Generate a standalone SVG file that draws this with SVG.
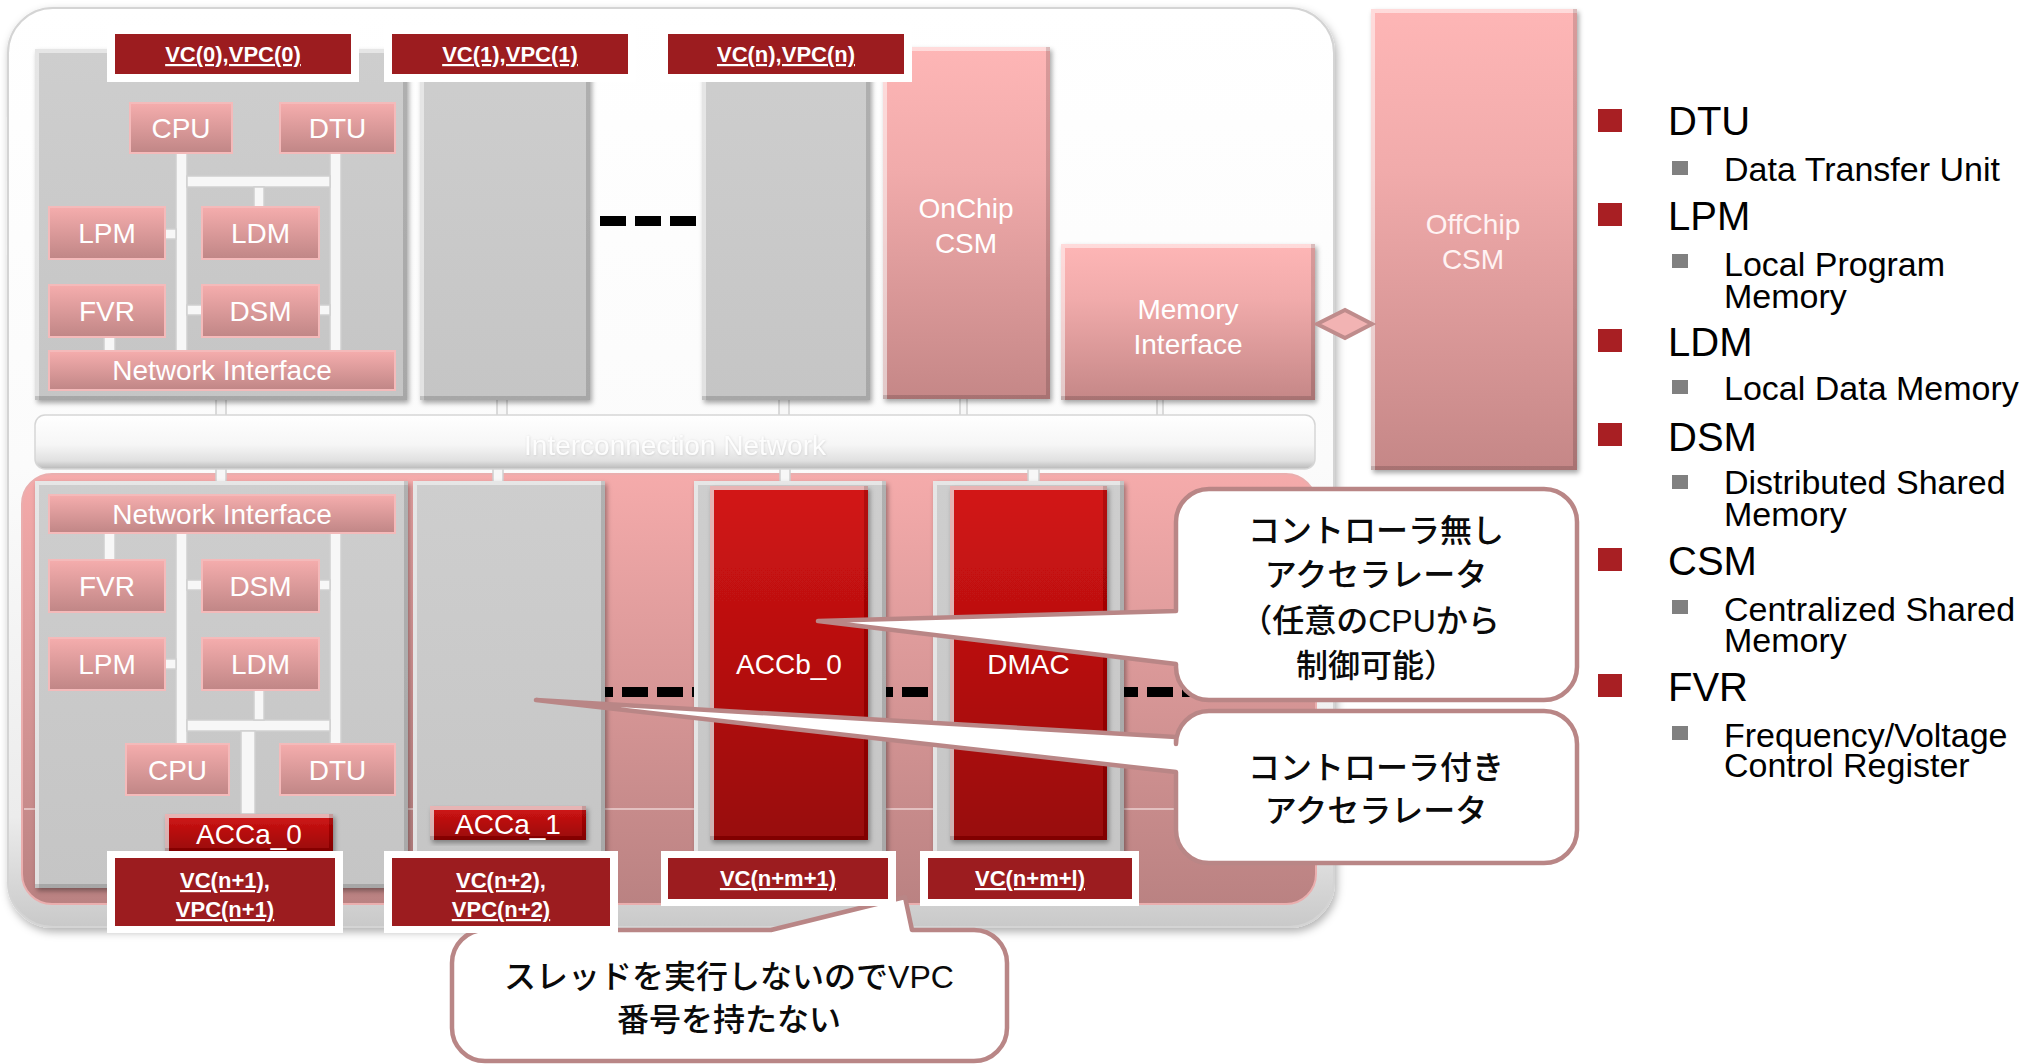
<svg xmlns="http://www.w3.org/2000/svg" width="2042" height="1064" viewBox="0 0 2042 1064">
<defs>
<linearGradient id="gOuter" x1="0" y1="0" x2="0" y2="1">
<stop offset="0" stop-color="#ffffff"/><stop offset="0.5" stop-color="#fbfbfb"/><stop offset="0.88" stop-color="#ececec"/><stop offset="1" stop-color="#c9c9c9"/>
</linearGradient>
<linearGradient id="gLow" x1="0" y1="0" x2="0" y2="1">
<stop offset="0" stop-color="#f5abab"/><stop offset="1" stop-color="#ba8282"/>
</linearGradient>
<linearGradient id="gPink" x1="0" y1="0" x2="0" y2="1">
<stop offset="0" stop-color="#f5adad"/><stop offset="1" stop-color="#c08686"/>
</linearGradient>
<linearGradient id="gPinkTall" x1="0" y1="0" x2="0" y2="1">
<stop offset="0" stop-color="#feb6b6"/><stop offset="0.35" stop-color="#f1abab"/><stop offset="1" stop-color="#c58787"/>
</linearGradient>
<linearGradient id="gRed" x1="0" y1="0" x2="0" y2="1">
<stop offset="0" stop-color="#d31414"/><stop offset="1" stop-color="#980b0b"/>
</linearGradient>
<linearGradient id="gBar" x1="0" y1="0" x2="0" y2="1">
<stop offset="0" stop-color="#ffffff"/><stop offset="0.55" stop-color="#f6f6f6"/><stop offset="0.85" stop-color="#e0e0e0"/><stop offset="1" stop-color="#b9b9b9"/>
</linearGradient>
<linearGradient id="gGray" x1="0" y1="0" x2="0" y2="1">
<stop offset="0" stop-color="#cecece"/><stop offset="1" stop-color="#c5c5c5"/>
</linearGradient>
<filter id="bevel" x="-10%" y="-10%" width="125%" height="125%">
<feOffset in="SourceAlpha" dx="-4" dy="-4" result="o1"/>
<feComposite in="SourceAlpha" in2="o1" operator="out" result="br"/>
<feFlood flood-color="#000" flood-opacity="0.3"/>
<feComposite in2="br" operator="in" result="brc"/>
<feOffset in="SourceAlpha" dx="4" dy="4" result="o2"/>
<feComposite in="SourceAlpha" in2="o2" operator="out" result="tl"/>
<feFlood flood-color="#fff" flood-opacity="0.45"/>
<feComposite in2="tl" operator="in" result="tlc"/>
<feGaussianBlur in="SourceAlpha" stdDeviation="2.5"/>
<feOffset dx="2" dy="3" result="sb"/>
<feFlood flood-color="#000" flood-opacity="0.35"/>
<feComposite in2="sb" operator="in" result="sh"/>
<feMerge><feMergeNode in="sh"/><feMergeNode in="SourceGraphic"/><feMergeNode in="tlc"/><feMergeNode in="brc"/></feMerge>
</filter>
<filter id="shadow" x="-5%" y="-5%" width="110%" height="110%">
<feDropShadow dx="2" dy="4" stdDeviation="4" flood-color="#000" flood-opacity="0.3"/>
</filter>
<filter id="tshadow" x="-5%" y="-20%" width="110%" height="140%">
<feDropShadow dx="0.5" dy="0.5" stdDeviation="0.8" flood-color="#aaa" flood-opacity="0.45"/>
</filter>
<style>
.t{font-family:"Liberation Sans",Arial,sans-serif;fill:#fff;font-size:28px;text-anchor:middle}
.vc{font-family:"Liberation Sans",Arial,sans-serif;font-weight:bold;font-size:22px;fill:#fff;text-anchor:middle;text-decoration:underline}
.comp{fill:url(#gPink);stroke:#f4baba;stroke-width:2}
.bus{fill:#f7f7f7;stroke:#d0d0d0;stroke-width:1.5}
.node{fill:url(#gGray);filter:url(#bevel)}
.pk{fill:url(#gPinkTall);filter:url(#bevel)}
.red{fill:url(#gRed);filter:url(#bevel)}
.vcw{fill:#ffffff}
.vcr{fill:#9c1c1f}
.co{fill:#fff;stroke:#b98686;stroke-width:4.5;stroke-linejoin:round}
.cot{font-family:"Liberation Sans","Noto Sans CJK JP",sans-serif;font-size:32px;font-weight:500;fill:#0a0a0a;text-anchor:middle}
.lg1{font-family:"Liberation Sans",Arial,sans-serif;font-size:40px;fill:#000}
.lg2{font-family:"Liberation Sans",Arial,sans-serif;font-size:34px;fill:#000}
.sqr{fill:#a81f23}
.sqg{fill:#808080}
.dash{stroke:#000;stroke-width:10;stroke-dasharray:26 9;fill:none}
</style>
</defs>

<g id="chip">
<rect x="8" y="8" width="1326" height="919" rx="45" fill="url(#gOuter)" stroke="#d4d4d4" stroke-width="2" filter="url(#shadow)"/>
<rect x="22" y="474" width="1294" height="430" rx="30" fill="url(#gLow)" stroke="#eaaeae" stroke-width="2"/>
<line x1="24" y1="809" x2="1314" y2="809" stroke="#ecd2d2" stroke-width="1.5"/>
</g>

<g id="connectors">
<line class="dash" x1="600" y1="221" x2="696" y2="221"/>
<line class="dash" x1="587" y1="692" x2="1200" y2="692"/>
<rect class="bus" x="216" y="388" width="10" height="30"/>
<rect class="bus" x="497" y="388" width="10" height="30"/>
<rect class="bus" x="779" y="388" width="10" height="28"/>
<rect class="bus" x="960" y="396" width="7" height="20"/>
<rect class="bus" x="1157" y="398" width="6" height="18"/>
<rect class="bus" x="216" y="466" width="10" height="30"/>
<rect class="bus" x="493" y="460" width="10" height="26"/>
<rect class="bus" x="780" y="466" width="10" height="18"/>
<rect class="bus" x="1028" y="460" width="11" height="28"/>
</g>

<g id="interconnect">
<rect x="35" y="415" width="1280" height="54" rx="10" fill="url(#gBar)" stroke="#d6d6d6" stroke-width="1.5"/>
<text class="t" x="675" y="455" font-size="29" style="fill:#fdfdfd" filter="url(#tshadow)">Interconnection Network</text>
</g>

<g id="node-vc0">
<rect class="node" x="35" y="49" width="372" height="351"/>
<rect class="bus" x="176" y="152" width="11" height="200"/>
<rect class="bus" x="330" y="152" width="11" height="200"/>
<rect class="bus" x="187" y="176" width="143" height="11"/>
<rect class="bus" x="254" y="187" width="10" height="21"/>
<rect class="bus" x="165" y="229" width="11" height="10"/>
<rect class="bus" x="187" y="305" width="15" height="10"/>
<rect class="bus" x="319" y="305" width="11" height="10"/>
<rect class="bus" x="104" y="337" width="11" height="15"/>
<rect class="comp" x="130" y="103" width="102" height="50"/><text class="t" x="181" y="138">CPU</text>
<rect class="comp" x="280" y="103" width="115" height="50"/><text class="t" x="337.5" y="138">DTU</text>
<rect class="comp" x="49" y="207" width="116" height="52"/><text class="t" x="107" y="243">LPM</text>
<rect class="comp" x="202" y="207" width="117" height="52"/><text class="t" x="260.5" y="243">LDM</text>
<rect class="comp" x="49" y="285" width="116" height="52"/><text class="t" x="107" y="321">FVR</text>
<rect class="comp" x="202" y="285" width="117" height="52"/><text class="t" x="260.5" y="321">DSM</text>
<rect class="comp" x="49" y="351" width="346" height="39"/><text class="t" x="222" y="380">Network Interface</text>
</g>

<g id="node-vc1"><rect class="node" x="420" y="49" width="170" height="351"/></g>
<g id="node-vcn"><rect class="node" x="702" y="49" width="168" height="351"/></g>

<g id="onchip-csm">
<rect class="pk" x="883" y="47" width="167" height="352"/>
<text class="t" x="966" y="218">OnChip</text><text class="t" x="966" y="253">CSM</text>
</g>
<g id="memory-interface">
<rect class="pk" x="1061" y="244" width="254" height="156"/>
<text class="t" x="1188" y="319">Memory</text><text class="t" x="1188" y="354">Interface</text>
</g>
<g id="offchip-csm">
<rect class="pk" x="1371" y="9" width="206" height="461"/>
<text class="t" x="1473" y="234" style="fill:#fff3f3">OffChip</text><text class="t" x="1473" y="269" style="fill:#fff3f3">CSM</text>
</g>
<g id="link-diamond">
<polygon points="1317,324 1345,310 1372,324 1345,338" fill="#f2b3b3" stroke="#bf8c8c" stroke-width="4"/>
</g>

<g id="node-vcn1">
<rect class="node" x="35" y="481" width="373" height="407"/>
<rect class="bus" x="176" y="533" width="11" height="211"/>
<rect class="bus" x="330" y="533" width="11" height="211"/>
<rect class="bus" x="187" y="720" width="143" height="11"/>
<rect class="bus" x="254" y="690" width="10" height="30"/>
<rect class="bus" x="241" y="731" width="14" height="83"/>
<rect class="bus" x="104" y="533" width="11" height="27"/>
<rect class="bus" x="165" y="659" width="11" height="10"/>
<rect class="bus" x="187" y="580" width="15" height="10"/>
<rect class="bus" x="319" y="580" width="11" height="10"/>
<rect class="comp" x="49" y="495" width="346" height="38"/><text class="t" x="222" y="524">Network Interface</text>
<rect class="comp" x="49" y="560" width="116" height="52"/><text class="t" x="107" y="596">FVR</text>
<rect class="comp" x="202" y="560" width="117" height="52"/><text class="t" x="260.5" y="596">DSM</text>
<rect class="comp" x="49" y="638" width="116" height="52"/><text class="t" x="107" y="674">LPM</text>
<rect class="comp" x="202" y="638" width="117" height="52"/><text class="t" x="260.5" y="674">LDM</text>
<rect class="comp" x="126" y="744" width="103" height="51"/><text class="t" x="177.5" y="780">CPU</text>
<rect class="comp" x="280" y="744" width="115" height="51"/><text class="t" x="337.5" y="780">DTU</text>
<rect class="red" x="165" y="814" width="168" height="38"/><text class="t" x="249" y="844">ACCa_0</text>
</g>

<g id="node-vcn2">
<rect class="node" x="413" y="481" width="192" height="407"/>
<rect class="red" x="430" y="806" width="156" height="34"/><text class="t" x="508" y="834">ACCa_1</text>
</g>

<g id="accb0">
<rect class="node" x="694" y="481" width="192" height="408"/>
<rect class="red" x="710" y="486" width="158" height="354"/>
<text class="t" x="789" y="674">ACCb_0</text>
</g>
<g id="dmac">
<rect class="node" x="933" y="481" width="191" height="408"/>
<rect class="red" x="950" y="486" width="157" height="354"/>
<text class="t" x="1028.5" y="674">DMAC</text>
</g>

<g id="callout-novpc">
<path class="co" d="M485,930 H771 L905,897 L912,930 H974 A33,33 0 0 1 1007,963 V1028 A33,33 0 0 1 974,1061 H485 A33,33 0 0 1 452,1028 V963 A33,33 0 0 1 485,930 Z"/>
<text class="cot" x="729" y="988">スレッドを実行しないのでVPC</text>
<text class="cot" x="729" y="1031">番号を持たない</text>
</g>

<g id="vc-labels">
<g id="vc0"><rect class="vcw" x="107" y="26" width="252" height="56"/><rect class="vcr" x="115" y="34" width="236" height="40"/><text class="vc" x="233" y="62">VC(0),VPC(0)</text></g>
<g id="vc1"><rect class="vcw" x="384" y="26" width="252" height="56"/><rect class="vcr" x="392" y="34" width="236" height="40"/><text class="vc" x="510" y="62">VC(1),VPC(1)</text></g>
<g id="vcn"><rect class="vcw" x="660" y="26" width="252" height="56"/><rect class="vcr" x="668" y="34" width="236" height="40"/><text class="vc" x="786" y="62">VC(n),VPC(n)</text></g>
<g id="vcn1"><rect class="vcw" x="107" y="851" width="236" height="82"/><rect class="vcr" x="115" y="858" width="220" height="68"/><text class="vc" x="225" y="888">VC(n+1),</text><text class="vc" x="225" y="917">VPC(n+1)</text></g>
<g id="vcn2"><rect class="vcw" x="384" y="851" width="234" height="82"/><rect class="vcr" x="392" y="858" width="218" height="68"/><text class="vc" x="501" y="888">VC(n+2),</text><text class="vc" x="501" y="917">VPC(n+2)</text></g>
<g id="vcnm1"><rect class="vcw" x="661" y="851" width="235" height="55"/><rect class="vcr" x="668" y="858" width="220" height="41"/><text class="vc" x="778" y="886">VC(n+m+1)</text></g>
<g id="vcnml"><rect class="vcw" x="920" y="851" width="219" height="55"/><rect class="vcr" x="928" y="858" width="204" height="41"/><text class="vc" x="1030" y="886">VC(n+m+l)</text></g>
</g>

<g id="callout-accb">
<path class="co" d="M1209,489 H1544 A33,33 0 0 1 1577,522 V667 A33,33 0 0 1 1544,700 H1209 A33,33 0 0 1 1176,667 V664 L818,621 L1176,611 V522 A33,33 0 0 1 1209,489 Z"/>
<text class="cot" x="1376" y="542">コントローラ無し</text>
<text class="cot" x="1376" y="586">アクセラレータ</text>
<text class="cot" x="1370" y="632">（任意のCPUから</text>
<text class="cot" x="1376" y="677">制御可能）</text>
</g>
<g id="callout-acca">
<path class="co" d="M1209,711 H1544 A33,33 0 0 1 1577,744 V830 A33,33 0 0 1 1544,863 H1209 A33,33 0 0 1 1176,830 V772 L536,700 L1176,737 V744 A33,33 0 0 1 1209,711 Z"/>
<text class="cot" x="1376" y="779">コントローラ付き</text>
<text class="cot" x="1376" y="822">アクセラレータ</text>
</g>

<g id="legend">
<rect class="sqr" x="1598" y="109" width="24" height="23"/><text class="lg1" x="1668" y="135">DTU</text>
<rect class="sqg" x="1672" y="161" width="16" height="14"/><text class="lg2" x="1724" y="181">Data Transfer Unit</text>
<rect class="sqr" x="1598" y="203" width="24" height="23"/><text class="lg1" x="1668" y="230">LPM</text>
<rect class="sqg" x="1672" y="254" width="16" height="14"/><text class="lg2" x="1724" y="276">Local Program</text><text class="lg2" x="1724" y="308">Memory</text>
<rect class="sqr" x="1598" y="329" width="24" height="23"/><text class="lg1" x="1668" y="356">LDM</text>
<rect class="sqg" x="1672" y="380" width="16" height="14"/><text class="lg2" x="1724" y="400">Local Data Memory</text>
<rect class="sqr" x="1598" y="423" width="24" height="23"/><text class="lg1" x="1668" y="451">DSM</text>
<rect class="sqg" x="1672" y="475" width="16" height="14"/><text class="lg2" x="1724" y="494">Distributed Shared</text><text class="lg2" x="1724" y="526">Memory</text>
<rect class="sqr" x="1598" y="548" width="24" height="23"/><text class="lg1" x="1668" y="575">CSM</text>
<rect class="sqg" x="1672" y="600" width="16" height="14"/><text class="lg2" x="1724" y="621">Centralized Shared</text><text class="lg2" x="1724" y="652">Memory</text>
<rect class="sqr" x="1598" y="674" width="24" height="23"/><text class="lg1" x="1668" y="701">FVR</text>
<rect class="sqg" x="1672" y="726" width="16" height="14"/><text class="lg2" x="1724" y="747">Frequency/Voltage</text><text class="lg2" x="1724" y="777">Control Register</text>
</g>
</svg>
